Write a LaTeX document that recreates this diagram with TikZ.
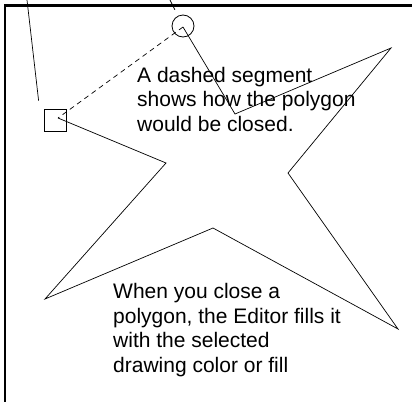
\documentclass[tikz,border=0pt]{standalone}
\usepackage{fontspec}
\setmainfont{Liberation Sans}
\usetikzlibrary{positioning, calc}

\begin{document}
\begin{tikzpicture}[x=1pt, y=-1pt,
  edge/.style={line width=0.7pt, line join=miter},
  grip/.style={draw, line width=0.8pt, inner sep=0pt, minimum size=22pt},
  note/.style={anchor=base west, align=left, inner sep=0pt, font=\fontsize{21}{24.5}\selectfont}
]
  \useasboundingbox (0,0) rectangle (412,402);
  \draw[line width=2.2pt] (4.5,5.5) -- (412,5.5);
  \draw[line width=2pt] (4.5,4.4) -- (4.5,402);

  \foreach \n/\x/\y in {p0/58/118, p1/166/163, p2/45/299, p3/213/228, p4/398/329,
                        p5/288/173, p6/391/48, p7/235/114, p8/183/27}
    \coordinate (\n) at (\x,\y);

  \draw[edge] (p0) -- (p1) -- (p2) -- (p3) -- (p4) -- (p5) -- (p6) -- (p7) -- (p8);
  \draw[edge, dash pattern=on 5pt off 4pt] (p8) -- (p0);

  \node[grip, rectangle] (first) at (55,120) {};
  \node[grip, circle] (last) at (183,26) {};

  \coordinate (lead1) at (27,0);
  \coordinate (lead2) at (170,0);
  \draw[edge] (lead1) -- ([shift={(-5,-8)}]first.north west);
  \draw[edge] (lead2) -- ($(lead2)!11pt!(last)$);

  \node[note] (dashnote) at (137,131) {A dashed segment\\shows how the polygon\\would be closed.};
  \node[note] (fillnote) at (113,372) {When you close a\\polygon, the Editor fills it\\with the selected\\drawing color or fill};
\end{tikzpicture}
\end{document}
